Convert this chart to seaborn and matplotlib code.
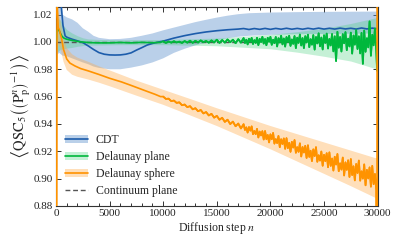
import numpy as np
import pandas as pd
import seaborn as sns
import matplotlib
matplotlib.use("Agg")
import matplotlib.pyplot as plt
from matplotlib.patches import Patch
from matplotlib.lines import Line2D
from matplotlib.ticker import MultipleLocator

# ---------------- data ----------------
# CDT
cdt_n = [0, 250, 500, 650, 850, 1000, 1250, 1500, 2000, 2500, 3000, 3500, 4000, 4500, 5000,
         5500, 6000, 6500, 7000, 7500, 8000, 8500, 9000, 9500, 10000, 11000, 12000, 13000,
         14000, 15000, 16000, 17000, 17500, 18000, 18500, 19000, 19500, 20000, 20500, 21000,
         21500, 22000, 22500, 23000, 23500, 24000, 24500, 25000, 25500, 26000, 26500, 27000,
         27500, 28000, 28500, 29000, 29500, 30000]
cdt_val = [1.20, 1.06, 1.025, 1.012, 1.0044, 1.0035, 1.0027, 1.0020, 1.0008, 0.9995, 0.9971,
           0.9945, 0.9922, 0.9910, 0.9905, 0.9904, 0.9905, 0.9910, 0.9920, 0.9940, 0.9958,
           0.9977, 0.9989, 0.9998, 1.0006, 1.0028, 1.0046, 1.0061, 1.0073, 1.0082, 1.0089,
           1.0094, 1.0098, 1.0091, 1.0098, 1.0092, 1.0099, 1.0092, 1.0099, 1.0093, 1.0100,
           1.0093, 1.0099, 1.0093, 1.0100, 1.0094, 1.0101, 1.0094, 1.0100, 1.0094, 1.0101,
           1.0095, 1.0100, 1.0094, 1.0102, 1.0095, 1.0101, 1.0096]
cdt_band_n = [0, 300, 600, 1000, 1500, 2000, 2500, 3000, 3500, 4000, 5000, 6000, 7000, 8000,
              9000, 10000, 11000, 12000, 13000, 14000, 15000, 16000, 17000, 18000, 20000,
              22500, 25000, 27500, 30000]
cdt_hi = [1.20, 1.10, 1.020, 1.018, 1.0165, 1.014, 1.010, 1.0075, 1.0045, 1.003, 1.002, 1.0022,
          1.0030, 1.0045, 1.0062, 1.0085, 1.0105, 1.0125, 1.0145, 1.0162, 1.0178, 1.0192,
          1.0203, 1.0210, 1.0215, 1.0218, 1.0220, 1.0221, 1.0222]
cdt_lo = [0.99, 0.992, 0.990, 0.9895, 0.988, 0.9865, 0.9850, 0.9837, 0.9820, 0.9810, 0.9800,
          0.9800, 0.9812, 0.9828, 0.9850, 0.9880, 0.9920, 0.9950, 0.9975, 0.9995, 1.0012,
          1.0027, 1.0038, 1.0045, 1.0052, 1.0056, 1.0058, 1.0060, 1.0062]

# step positions of the noisy (late) part of the two Delaunay series
late_n = list(range(10000, 17500, 250)) + list(range(17500, 30000, 125)) + [29950, 30000]

# Delaunay plane
plane_n_early = [0, 50, 150, 250, 400, 550, 700, 850, 1000, 1250, 1500, 2000, 2500, 3000,
                 3500, 4000, 5000, 6000, 7000, 8000, 9000, 9750]
plane_val_early = [1.000, 1.006, 1.0095, 1.009, 1.0065, 1.0042, 1.0030, 1.0024, 1.0020,
                   1.0015, 1.0011, 1.0004, 0.9999, 0.9996, 0.9994, 0.9993, 0.9993, 0.9996,
                   0.9993, 0.9997, 0.9994, 0.9997]
plane_val_late = [1.0004, 0.9993, 1.0003, 0.9995, 1.0005, 0.9996, 1.0002, 0.9993, 1.0006,
                  0.9995, 1.0009, 0.9993, 1.0008, 0.9996, 1.0011, 0.9998, 1.0007, 0.9994,
                  1.0011, 0.9996, 1.0016, 0.9993, 1.0014, 0.9995, 1.0018, 0.9998, 1.0016,
                  0.9991, 1.0020, 0.9995,
                  1.0028, 0.9992, 1.0016, 0.9982, 1.0023, 1.0001, 1.0029, 0.9985, 1.0013,
                  0.9993, 1.0030, 0.9977, 1.0023, 0.9999, 1.0037, 0.9988, 1.0021, 0.9976,
                  1.0030, 1.0001, 1.0037, 0.9979, 1.0016, 0.9991, 1.0036, 0.9967, 1.0027,
                  0.9996, 1.0045, 0.9982, 1.0025, 0.9966, 1.0036, 0.9999, 1.0045, 0.9971,
                  1.0018, 0.9986, 1.0043, 0.9955, 1.0031, 0.9993, 1.0054, 0.9974, 1.0028,
                  0.9955, 1.0042, 0.9996, 1.0053, 0.9962, 1.0020, 0.9980, 1.0050, 0.9944,
                  1.0036, 0.9989, 1.0063, 0.9968, 1.0032, 0.9945, 1.0049, 0.9993, 1.0061,
                  0.9952, 1.0022, 0.9974, 1.0058, 0.9931, 1.0041, 0.9860, 1.0074, 0.9958,
                  1.0036, 0.9930, 1.0057, 0.9990, 1.0072, 0.9940, 1.0024, 0.9967, 1.0068,
                  0.9915, 1.0047, 0.9980, 1.0086, 0.9948, 1.0041, 0.9916, 1.0066, 0.9840,
                  1.0083, 0.9928, 1.0027, 0.9960, 1.0150, 0.9899, 1.0053, 0.9975, 1.0098,
                  0.9939,
                  0.9790, 0.9850]
plane_band_n = [0, 150, 400, 700, 1000, 1500, 2000, 2500, 3000, 4000, 6000, 10000, 15000,
                20000, 22500, 25000, 27500, 30000]
plane_hi = [1.017, 1.0175, 1.016, 1.012, 1.009, 1.0065, 1.0045, 1.003, 1.0022, 1.0018,
            1.0016, 1.0018, 1.0028, 1.0055, 1.0075, 1.010, 1.0135, 1.018]
plane_lo = [0.990, 0.993, 0.9945, 0.995, 0.9955, 0.996, 0.9968, 0.9973, 0.9976, 0.9978,
            0.998, 0.998, 0.9972, 0.9950, 0.9925, 0.9895, 0.9860, 0.980]

# Delaunay sphere
sphere_n_early = [0, 100, 200, 300, 400, 530, 700, 1000, 1300, 1770, 2300, 3010, 4000, 4570,
                  5000, 6120, 7000, 7670, 8500, 9230, 9750]
sphere_val_early = [0.50, 1.030, 1.0105, 1.009, 1.006, 1.002, 0.9945, 0.9875, 0.9845, 0.9824,
                    0.9805, 0.9788, 0.9762, 0.9746, 0.9734, 0.9707, 0.9682, 0.9662, 0.9638,
                    0.9617, 0.9600]
sphere_val_late = [0.9600, 0.9583, 0.9585, 0.9567, 0.9571, 0.9554, 0.9558, 0.9537, 0.9542,
                   0.9523, 0.9530, 0.9507, 0.9515, 0.9493, 0.9502, 0.9477, 0.9487, 0.9462,
                   0.9474, 0.9446, 0.9459, 0.9431, 0.9445, 0.9415, 0.9431, 0.9399, 0.9417,
                   0.9383, 0.9403, 0.9367,
                   0.9398, 0.9356, 0.9375, 0.9337, 0.9377, 0.9351, 0.9382, 0.9325, 0.9348,
                   0.9325, 0.9364, 0.9301, 0.9344, 0.9316, 0.9347, 0.9286, 0.9348, 0.9289,
                   0.9319, 0.9265, 0.9324, 0.9288, 0.9334, 0.9256, 0.9289, 0.9260, 0.9312,
                   0.9230, 0.9288, 0.9253, 0.9294, 0.9218, 0.9296, 0.9223, 0.9262, 0.9196,
                   0.9269, 0.9227, 0.9282, 0.9189, 0.9230, 0.9196, 0.9258, 0.9162, 0.9231,
                   0.9191, 0.9240, 0.9151, 0.9244, 0.9159, 0.9204, 0.9128, 0.9214, 0.9165,
                   0.9230, 0.9123, 0.9171, 0.9132, 0.9198, 0.9094, 0.9174, 0.9128, 0.9186,
                   0.9083, 0.9192, 0.9093, 0.9147, 0.9059, 0.9160, 0.9103, 0.9180, 0.9054,
                   0.9112, 0.9066, 0.9154, 0.9023, 0.9119, 0.9064, 0.9134, 0.9012, 0.9143,
                   0.9026, 0.9090, 0.8987, 0.9107, 0.9041, 0.9132, 0.8985, 0.9053, 0.9000,
                   0.9104, 0.8951, 0.9064, 0.9001, 0.9082, 0.8941, 0.9093, 0.8959, 0.9034,
                   0.8915,
                   0.5000, 1.5000]
sphere_band_n = [0, 100, 200, 400, 700, 1000, 1500, 2000, 3000, 4000, 5000, 7500, 10000,
                 12500, 15000, 17500, 20000, 22500, 25000, 27500, 29750, 30000]
sphere_hi = [1.10, 1.06, 1.0225, 1.016, 1.0035, 0.9955, 0.991, 0.9885, 0.9855, 0.9822, 0.9792,
             0.9717, 0.9650, 0.9583, 0.9515, 0.9450, 0.9385, 0.9325, 0.9265, 0.9205, 0.9151,
             0.915]
sphere_lo = [0.60, 0.95, 0.9985, 0.996, 0.9855, 0.9795, 0.976, 0.9745, 0.9725, 0.9702, 0.9676,
             0.9607, 0.9540, 0.9463, 0.9385, 0.9300, 0.9215, 0.9125, 0.9035, 0.8945, 0.8861,
             0.885]

continuum_val = 1.0

labels = ["CDT", "Delaunay plane", "Delaunay sphere", "Continuum plane"]
xticks = [0, 5000, 10000, 15000, 20000, 25000, 30000]
yticks = [0.88, 0.90, 0.92, 0.94, 0.96, 0.98, 1.00, 1.02]

# ---------------- style ----------------
sns.set_style("ticks")
plt.rcParams["font.family"] = ["Liberation Serif", "DejaVu Serif"]
plt.rcParams["mathtext.fontset"] = "stix"
plt.rcParams["font.size"] = 8

c_blue, c_blue_band = "#1c5cab", "#5b8fcc"
c_green, c_green_band = "#00b83c", "#3fcf78"
c_orange, c_orange_band = "#ff9300", "#ffab4a"

fig = plt.figure(figsize=(3.99, 2.44), dpi=100)
ax = fig.add_axes([0.1404, 0.156, 0.806, 0.815])

df_cdt = pd.DataFrame({"n": cdt_n, "v": cdt_val})
df_plane = pd.DataFrame({"n": plane_n_early + late_n, "v": plane_val_early + plane_val_late})
df_sphere = pd.DataFrame({"n": sphere_n_early + late_n, "v": sphere_val_early + sphere_val_late})
df_plane_late = pd.DataFrame({"n": late_n, "v": plane_val_late})
df_sphere_late = pd.DataFrame({"n": late_n, "v": sphere_val_late})

ax.fill_between(cdt_band_n, cdt_lo, cdt_hi, color=c_blue_band, alpha=0.42, lw=0, zorder=1)
ax.fill_between(plane_band_n, plane_lo, plane_hi, color=c_green_band, alpha=0.30, lw=0, zorder=1.1)
ax.fill_between(sphere_band_n, sphere_lo, sphere_hi, color=c_orange_band, alpha=0.38, lw=0, zorder=1.2)

ax.axhline(continuum_val, color="#555555", lw=1.0, ls=(0, (3.5, 2)), zorder=2)

sns.lineplot(data=df_cdt, x="n", y="v", ax=ax, color=c_blue, lw=1.2, estimator=None,
             sort=False, zorder=3)
sns.lineplot(data=df_plane, x="n", y="v", ax=ax, color=c_green, lw=1.2, estimator=None,
             sort=False, zorder=3.1)
sns.lineplot(data=df_plane_late, x="n", y="v", ax=ax, color=c_green, lw=1.3, estimator=None,
             sort=False, zorder=3.1)
sns.lineplot(data=df_sphere, x="n", y="v", ax=ax, color=c_orange, lw=1.2, estimator=None,
             sort=False, zorder=3.2)
sns.lineplot(data=df_sphere_late, x="n", y="v", ax=ax, color=c_orange, lw=1.3, estimator=None,
             sort=False, zorder=3.2)

ax.set_xlim(0, 30000)
ax.set_ylim(0.88, 1.0255)
ax.set_xticks(xticks)
ax.set_yticks(yticks)
ax.set_yticklabels([f"{t:.2f}" for t in yticks])
ax.xaxis.set_minor_locator(MultipleLocator(1000))
ax.tick_params(which="both", direction="in", top=True, right=True, colors="#333333",
               labelcolor="#222222", width=0.7)
ax.tick_params(which="major", length=3.5, labelsize=8, pad=2.5)
ax.tick_params(which="minor", length=2)
for s in ax.spines.values():
    s.set_linewidth(0.8)
    s.set_color("#333333")

ax.set_xlabel(r"Diffusion step $n$", fontsize=8.5, labelpad=1)
ax.set_ylabel(r"$\left\langle \mathrm{QSC}_5\left(\left(\mathrm{P}^{n}_{\mathrm{p}}\right)^{-1}\right)\right\rangle$",
              fontsize=10.5, labelpad=0)

handles = [
    (Patch(facecolor=c_blue_band, alpha=0.42, lw=0), Line2D([], [], color=c_blue, lw=1.2)),
    (Patch(facecolor=c_green_band, alpha=0.30, lw=0), Line2D([], [], color=c_green, lw=1.2)),
    (Patch(facecolor=c_orange_band, alpha=0.38, lw=0), Line2D([], [], color=c_orange, lw=1.2)),
    Line2D([], [], color="#555555", lw=1.0, ls=(0, (3.5, 2))),
]
ax.legend(handles, labels, loc="lower left", frameon=False, fontsize=8.5,
          handlelength=2.0, handletextpad=0.6, labelspacing=0.42, borderaxespad=0.35)

fig.savefig("out.png", dpi=100)
